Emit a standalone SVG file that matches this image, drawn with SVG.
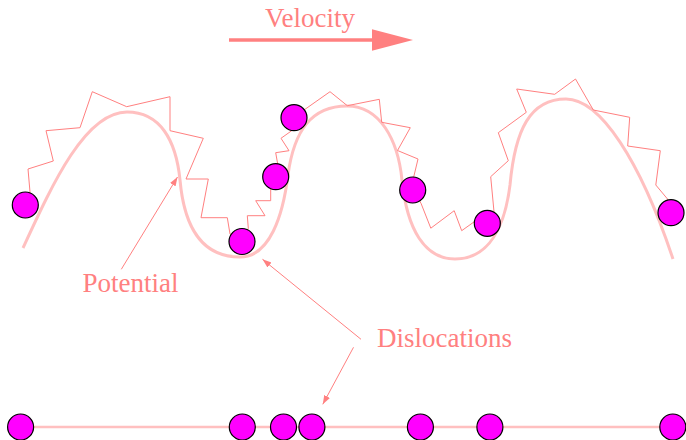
<svg xmlns="http://www.w3.org/2000/svg" width="686" height="440" viewBox="0 0 686 440">
<style>
.lbl{font-family:"Liberation Serif","Times New Roman",serif;font-size:27px;fill:#ff8080}
.pot{fill:none;stroke:#ffc0c0;stroke-width:3}
.zig{fill:none;stroke:#ff8080;stroke-width:1}
.disl{fill:#ff00ff;stroke:#000;stroke-width:1.2}
.ptr{fill:none;stroke:#ff8080;stroke-width:1;marker-end:url(#ah)}
</style>
<defs>
<marker id="ah" markerWidth="10" markerHeight="8" refX="9" refY="4" orient="auto" markerUnits="userSpaceOnUse">
<path d="M0,0.8 L9,4 L0,7.2 Z" fill="#ff8080"/>
</marker>
</defs>
<rect width="686" height="440" fill="#fff"/>
<g id="velocity">
<line x1="229" y1="40" x2="374" y2="40" stroke="#ff8080" stroke-width="3.5"/>
<polygon points="372,29.3 413,40 372,50.7" fill="#ff8080"/>
<text class="lbl" x="265" y="27">Velocity</text>
</g>
<g id="potential">
<path class="pot" d="M23,248 C52,185 85,112 127,112 C160,112 176,140 180,180 C184,225 200,257 240,257 C270,257 283,215 288,175 C294,130 312,106 347,106 C380,106 398,140 402,180 C407,230 425,259 455,259 C490,259 505,225 510,185 C515,130 530,99 566,99 C600,99 640,160 673,259"/>
</g>
<g id="line">
<line x1="20" y1="427" x2="673" y2="427" stroke="#ffc0c0" stroke-width="2.5"/>
</g>
<g id="chain">
<polyline class="zig" points="25,205 30,192 28,169 53.3,161 46,130.7 80,127.7 92.3,91.7 126.7,106.7 170,96.7 170,130.7 203.3,138.3 186,179 208.3,179 201,217.7 227.3,217.7 230,234 242,241 248.3,228.3 247.3,215.7 265,215.7 255.7,200.7 270.7,200.7 270.7,190 276,177 277.7,164 275.7,152.7 289,150.7 281,138.3 291.7,130.7 294,118 305,109.3 330,91.7 347.3,105.7 379.3,99.3 381.7,122.3 410.3,127.7 397.5,150.5 418,159 413.7,177 413,190 421,203.3 430.8,228.2 454.2,210.7 461.7,230.7 476.7,220 487,223 494,211.7 490.7,176.7 508.3,160.7 498.3,132.7 526.3,112.3 516.7,89 554.7,94.3 575.5,79 593.3,110 629.7,117.3 627.7,146 660.3,150.7 655.8,185 667.5,199 671,213"/>
</g>
<g id="dislocations-top">
<circle class="disl" cx="25.3" cy="205" r="13"/>
<circle class="disl" cx="242" cy="241.5" r="13"/>
<circle class="disl" cx="275.7" cy="176.7" r="13"/>
<circle class="disl" cx="294" cy="117.7" r="13"/>
<circle class="disl" cx="412.7" cy="190" r="13"/>
<circle class="disl" cx="487.3" cy="223.3" r="13"/>
<circle class="disl" cx="671" cy="212.7" r="13"/>
</g>
<g id="dislocations-bottom">
<circle class="disl" cx="20.6" cy="427" r="13"/>
<circle class="disl" cx="242.3" cy="427" r="13"/>
<circle class="disl" cx="283.5" cy="427" r="13"/>
<circle class="disl" cx="311.9" cy="427" r="13"/>
<circle class="disl" cx="420.4" cy="427" r="13"/>
<circle class="disl" cx="489.9" cy="427" r="13"/>
<circle class="disl" cx="672.8" cy="427" r="13"/>
</g>
<g id="label-potential">
<text class="lbl" x="82.5" y="292">Potential</text>
</g>
<g id="label-dislocations">
<text class="lbl" x="377" y="347">Dislocations</text>
</g>
<g id="connectors">
<line class="ptr" x1="121.3" y1="269.3" x2="177.5" y2="177"/>
<line class="ptr" x1="361" y1="339.3" x2="262.5" y2="259.3"/>
<line class="ptr" x1="353.5" y1="347.3" x2="322.8" y2="404.3"/>
</g>
</svg>
